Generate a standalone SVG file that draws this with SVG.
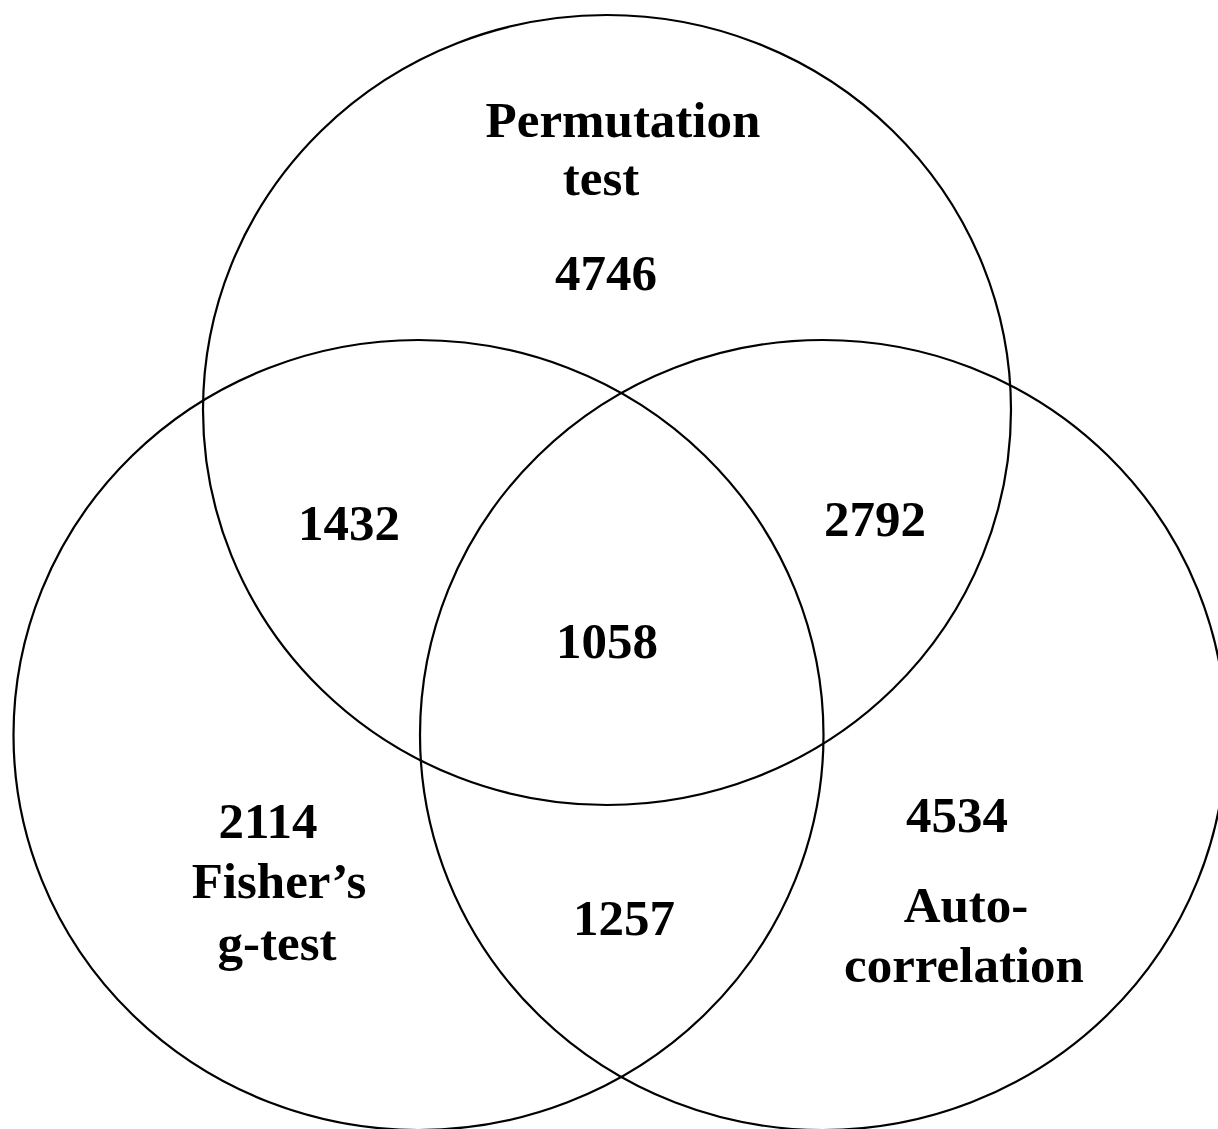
<svg xmlns="http://www.w3.org/2000/svg" width="1218" height="1129" viewBox="0 0 1218 1129">
<style>
.c{fill:none;stroke:#000;stroke-width:2.2}
.t{font-family:"Liberation Serif","Times New Roman",serif;font-weight:bold;font-size:51px;fill:#000;text-anchor:middle}
</style>
<rect width="1218" height="1129" fill="#fff"/>
<g id="permutation">
<ellipse class="c" cx="607" cy="410" rx="404" ry="395"/>
<text class="t" x="623" y="137">Permutation</text>
<text class="t" x="601" y="195">test</text>
<text class="t" x="606" y="290">4746</text>
</g>
<g id="fisher">
<ellipse class="c" cx="418.5" cy="735" rx="405" ry="395"/>
<text class="t" x="268" y="838">2114</text>
<text class="t" x="279" y="898">Fisher’s</text>
<text class="t" x="277" y="960">g-test</text>
</g>
<g id="autocorrelation">
<ellipse class="c" cx="823" cy="735" rx="403" ry="395"/>
<text class="t" x="957" y="832">4534</text>
<text class="t" x="966" y="922">Auto-</text>
<text class="t" x="964" y="982">correlation</text>
</g>
<g id="overlaps">
<text class="t" x="349" y="540">1432</text>
<text class="t" x="875" y="536">2792</text>
<text class="t" x="607" y="658">1058</text>
<text class="t" x="624" y="935">1257</text>
</g>
</svg>
